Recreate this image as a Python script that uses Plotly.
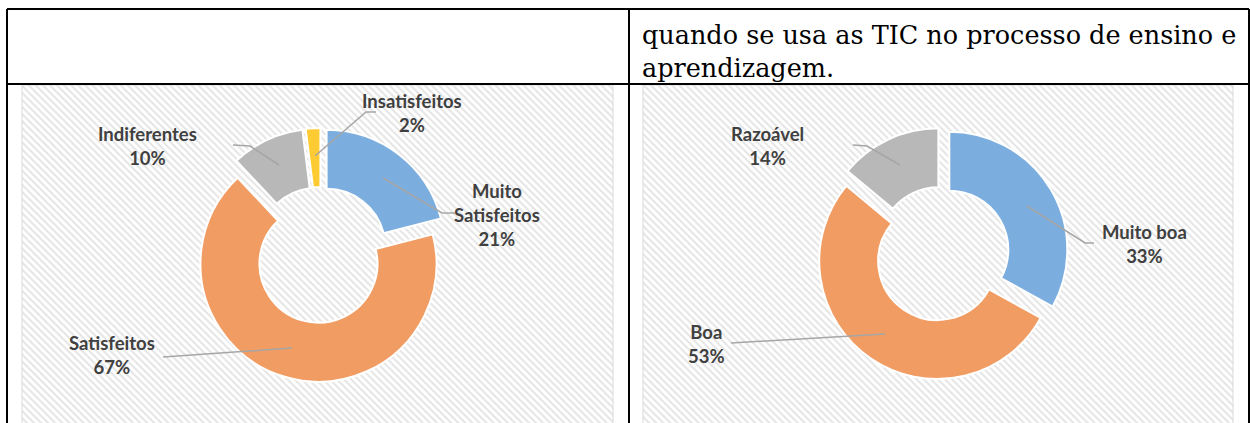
import plotly.graph_objects as go

W, H = 1250, 423

# left doughnut: satisfaction with ICT use
sat_labels = ["Muito<br>Satisfeitos", "Satisfeitos", "Indiferentes", "Insatisfeitos"]
sat_values = [21, 67, 10, 2]
sat_colors = ["#7BAEDF", "#F19C63", "#B8B8B8", "#FFCB33"]

# right doughnut: quality rating
qual_labels = ["Muito boa", "Boa", "Razoável"]
qual_values = [33, 53, 14]
qual_colors = ["#7BAEDF", "#F19C63", "#B8B8B8"]

cell_lines = ["quando se usa as TIC no processo de ensino e", "aprendizagem."]

# label anchor points (pixels) and leader paths, in slice order
sat_label_pos = [(497, 215), (112, 355), (147, 146), (412, 113)]
sat_leaders = [
    [(383, 178), (442, 213), (455, 213)],
    [(292, 348), (163, 357)],
    [(279, 165), (250, 146), (233, 145)],
    [(315, 156), (366, 112), (376, 112)],
]
qual_label_pos = [(1144, 244), (706, 344), (767, 146)]
qual_leaders = [
    [(1027, 206), (1085, 243), (1094, 243)],
    [(885, 334), (731, 343)],
    [(900, 165), (867, 146), (853, 145)],
]


def pie_domain(cx, cy, r, pull):
    h = r * (1 + pull)
    return dict(x=[(cx - h) / W, (cx + h) / W], y=[(H - cy - h) / H, (H - cy + h) / H])


fig = go.Figure()

# hatched chart areas
for x0, x1 in [(22, 613), (643, 1233)]:
    fig.add_trace(go.Scatter(
        x=[x0, x1, x1, x0, x0], y=[85, 85, 440, 440, 85],
        mode="lines", fill="toself", line=dict(color="#d9d9d9", width=1),
        fillcolor="white",
        fillpattern=dict(shape="\\", fgcolor="#c9c9c9", bgcolor="white", size=5, solidity=0.4),
        hoverinfo="skip", showlegend=False,
    ))

fig.add_trace(go.Pie(
    labels=[l.replace("<br>", " ") for l in sat_labels], values=sat_values,
    marker=dict(colors=sat_colors, line=dict(color="white", width=2)),
    hole=0.5, pull=0.077, sort=False, direction="clockwise", rotation=0,
    textinfo="none", domain=pie_domain(321, 255, 118, 0.077), showlegend=False,
))
fig.add_trace(go.Pie(
    labels=qual_labels, values=qual_values,
    marker=dict(colors=qual_colors, line=dict(color="white", width=2)),
    hole=0.5, pull=0.072, sort=False, direction="clockwise", rotation=0,
    textinfo="none", domain=pie_domain(942, 254, 118, 0.072), showlegend=False,
))

# table borders
border = dict(color="black", width=2)
for x0, y0, x1, y1 in [(7, 9, 1249, 9), (7, 84, 1249, 84), (7, 9, 7, 430),
                       (629, 9, 629, 430), (1249, 9, 1249, 430)]:
    fig.add_shape(type="line", x0=x0, y0=y0, x1=x1, y1=y1, line=border, layer="above")

# leader lines
for pts in sat_leaders + qual_leaders:
    path = "M " + " L ".join(f"{x},{y}" for x, y in pts)
    fig.add_shape(type="path", path=path, line=dict(color="#a6a6a6", width=1.5), layer="above")

label_font = dict(family="Lato", size=18.5, color="#404040")
for names, vals, pos in [(sat_labels, sat_values, sat_label_pos),
                         (qual_labels, qual_values, qual_label_pos)]:
    for name, v, (x, y) in zip(names, vals, pos):
        fig.add_annotation(x=x, y=y, text=f"<b>{name}<br>{v}%</b>", showarrow=False,
                           font=label_font, align="center", xanchor="center", yanchor="middle")

for i, line in enumerate(cell_lines):
    fig.add_annotation(x=640, y=35 + 33 * i, text=line, showarrow=False,
                       font=dict(family="DejaVu Serif", size=25.5, color="black"),
                       xanchor="left", yanchor="middle")

fig.update_layout(
    width=W, height=H, margin=dict(l=0, r=0, t=0, b=0),
    paper_bgcolor="white", plot_bgcolor="white",
    xaxis=dict(range=[0, W], visible=False, fixedrange=True),
    yaxis=dict(range=[H, 0], visible=False, fixedrange=True),
)

# page body has a default 8px margin; remove it so the figure sits at the window origin
fig.write_html("out.html", config={"displayModeBar": False},
               post_script="document.body.style.margin='0';")
